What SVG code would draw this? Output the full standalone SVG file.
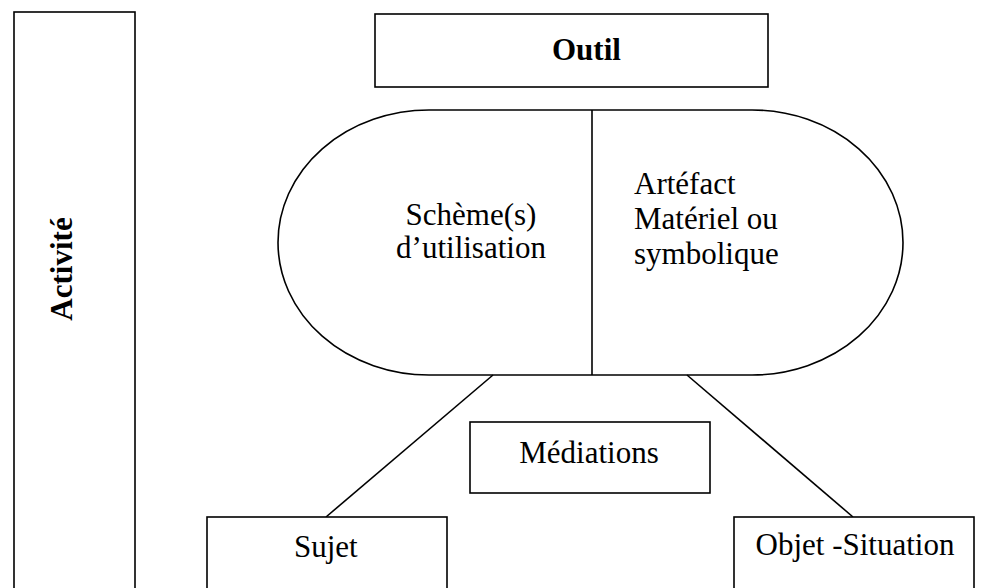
<svg xmlns="http://www.w3.org/2000/svg" width="981" height="588" viewBox="0 0 981 588">
<style>
.box{fill:#fff;stroke:#000;stroke-width:1.6}
.ln{stroke:#000;stroke-width:1.6;fill:none}
.t{font-family:"Liberation Serif","Times New Roman",serif;font-size:31px;fill:#000}
.b{font-weight:bold}
</style>
<rect width="981" height="588" fill="#fff"/>
<g id="activite">
<rect class="box" x="14" y="12" width="121" height="600"/>
<text class="t b" font-size="34" text-anchor="middle" transform="translate(72 269) rotate(-90)">Activité</text>
</g>
<g id="outil">
<rect class="box" x="375" y="14" width="393" height="73"/>
<text class="t b" font-size="36" x="552" y="60">Outil</text>
</g>
<g id="instrument">
<rect class="box" x="278" y="110" width="625" height="265" rx="151" ry="132.5"/>
<line class="ln" x1="592" y1="110" x2="592" y2="375"/>
<text class="t" text-anchor="middle" x="471" y="225">Schème(s)</text>
<text class="t" text-anchor="middle" x="471" y="258">d’utilisation</text>
<text class="t" x="634" y="194">Artéfact</text>
<text class="t" x="634" y="229">Matériel ou</text>
<text class="t" x="634" y="264">symbolique</text>
</g>
<g id="connectors">
<line class="ln" x1="493" y1="375" x2="326" y2="517"/>
<line class="ln" x1="687" y1="375" x2="853" y2="517"/>
</g>
<g id="mediations">
<rect class="box" x="470" y="422" width="240" height="71"/>
<text class="t" text-anchor="middle" x="589" y="463">Médiations</text>
</g>
<g id="sujet">
<rect class="box" x="207" y="517" width="240" height="100"/>
<text class="t" x="294" y="557">Sujet</text>
</g>
<g id="objet">
<rect class="box" x="734" y="517" width="240" height="100"/>
<text class="t" font-size="30" text-anchor="middle" x="855" y="555">Objet -Situation</text>
</g>
</svg>
